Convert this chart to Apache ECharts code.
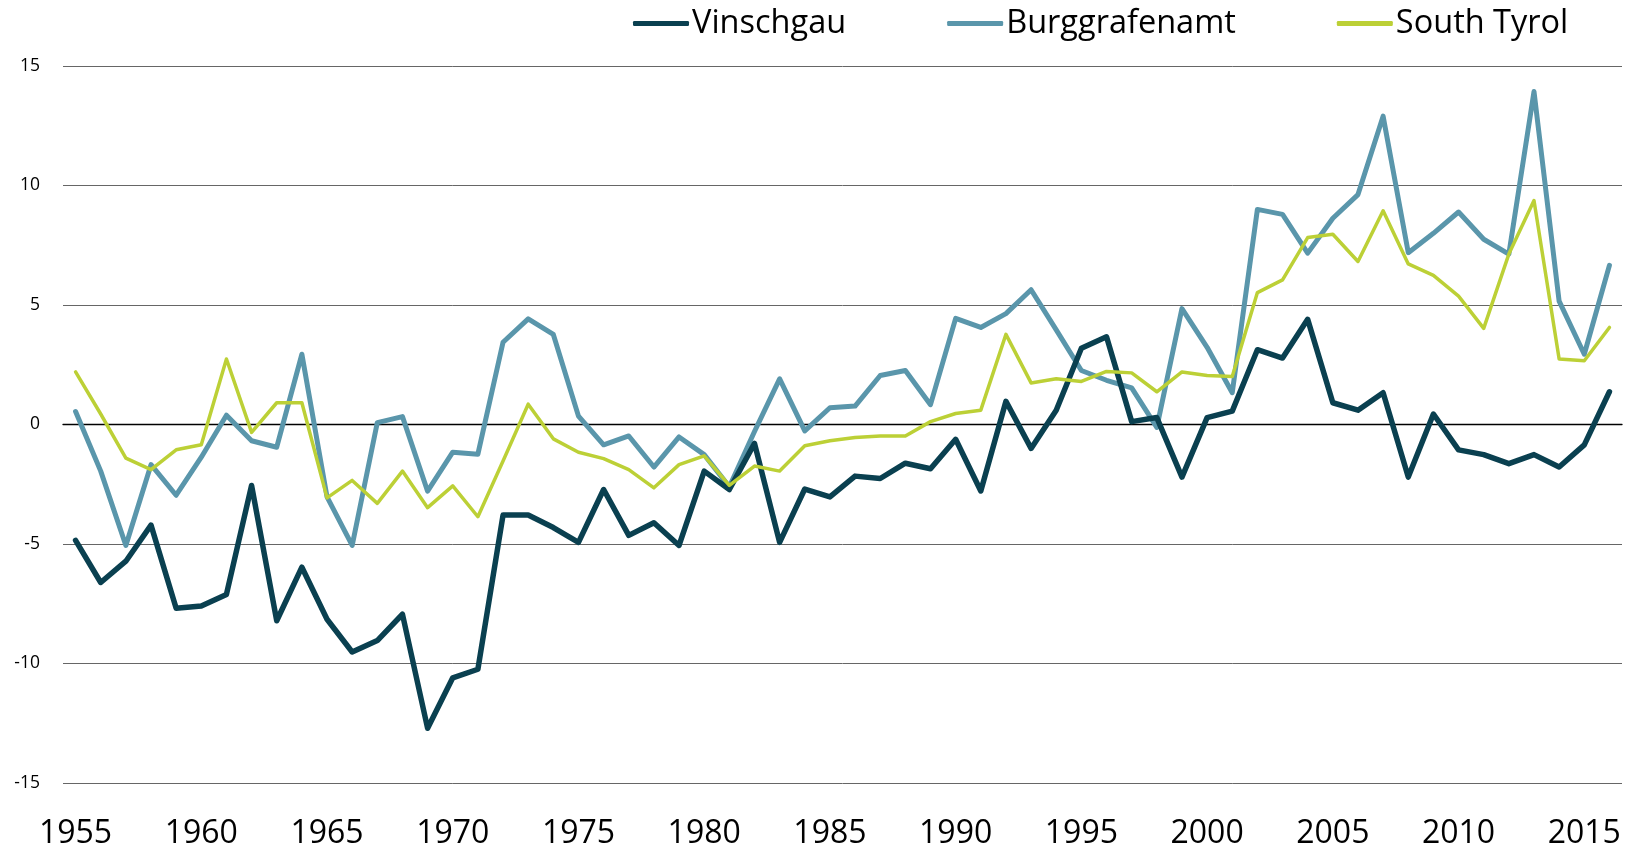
<!DOCTYPE html>
<html><head><meta charset="utf-8">
<script src="https://cdn.jsdelivr.net/npm/echarts@6/dist/echarts.min.js"></script>
<style>html,body{margin:0;padding:0;background:#fff}#c{width:1637px;height:850px}</style>
</head><body><div id="c"></div>
<script>
const years = [];
for (let y = 1955; y <= 2016; y++) years.push(String(y));

const vinschgau = [
 -4.85,-6.61,-5.72,-4.21,-7.69,-7.59,-7.11,-2.55,-8.21,-5.97,
 -8.15,-9.52,-9.04,-7.94,-12.71,-10.60,-10.24,-3.79,-3.79,-4.31,
 -4.93,-2.72,-4.64,-4.11,-5.06,-1.95,-2.72,-0.79,-4.93,-2.70,
 -3.03,-2.16,-2.26,-1.62,-1.85,-0.62,-2.78,0.97,-1.00,0.60,
 3.19,3.67,0.12,0.29,-2.20,0.29,0.56,3.13,2.78,4.40,
 0.91,0.60,1.33,-2.20,0.44,-1.06,-1.26,-1.64,-1.26,-1.78,
 -0.85,1.37
];
const burggrafenamt = [
 0.54,-1.95,-5.06,-1.68,-2.96,-1.37,0.39,-0.68,-0.95,2.94,
 -3.03,-5.06,0.08,0.33,-2.79,-1.16,-1.24,3.44,4.42,3.77,
 0.35,-0.85,-0.48,-1.78,-0.52,-1.26,-2.61,-0.29,1.91,-0.27,
 0.70,0.77,2.05,2.26,0.83,4.44,4.06,4.64,5.64,3.96,
 2.26,1.85,1.53,-0.12,4.85,3.23,1.33,9.00,8.79,7.17,
 8.63,9.62,12.90,7.19,8.00,8.89,7.75,7.13,13.93,5.16,
 2.94,6.66
];
const southTyrol = [
 2.20,0.44,-1.41,-1.89,-1.06,-0.85,2.74,-0.33,0.91,0.91,
 -3.07,-2.34,-3.30,-1.95,-3.48,-2.57,-3.86,-1.53,0.85,-0.60,
 -1.16,-1.43,-1.89,-2.65,-1.68,-1.31,-2.55,-1.74,-1.95,-0.89,
 -0.68,-0.54,-0.48,-0.48,0.12,0.46,0.60,3.77,1.74,1.91,
 1.80,2.22,2.16,1.37,2.20,2.05,2.01,5.52,6.05,7.82,
 7.96,6.82,8.94,6.72,6.24,5.37,4.02,7.13,9.37,2.74,
 2.67,4.06
];
const yTicks = [-15, -10, -5, 0, 5, 10, 15];

const FONT = '"Open Sans", "Noto Sans", sans-serif';
const chart = echarts.init(document.getElementById('c'), null, {renderer: 'canvas'});
const mk = (name, data, color, w, z) => ({
  name, type: 'line', data, symbol: 'none', z,
  lineStyle: {color, width: w, join: 'round', cap: 'round'}, itemStyle: {color}
});
chart.setOption({
  animation: false,
  backgroundColor: '#fff',
  legend: {
    top: 2, left: 628,
    itemWidth: 56, itemHeight: 5, itemGap: 101,
    icon: 'roundRect',
    textStyle: {fontFamily: FONT, fontSize: 32.5, color: '#000', padding: [0,0,0,-2]},
    data: ['Vinschgau', 'Burggrafenamt', 'South Tyrol']
  },
  grid: {left: 63, right: 15, top: 66, bottom: 66},
  xAxis: {
    type: 'category', data: years, boundaryGap: true,
    axisLine: {onZero: true, lineStyle: {color: '#000', width: 1.3}},
    axisTick: {show: false},
    axisLabel: {interval: 4, fontFamily: FONT, fontSize: 32, color: '#000', margin: 35,
      verticalAlign: 'top'}
  },
  yAxis: {
    type: 'value', min: -15, max: 15, interval: 5,
    axisLine: {show: false}, axisTick: {show: false},
    axisLabel: {fontFamily: FONT, fontSize: 17.5, color: '#000', margin: 23,
      formatter: v => yTicks.includes(v) ? String(v) : ''},
    splitLine: {lineStyle: {color: '#666', width: 1}}
  },
  series: [
    mk('Vinschgau', vinschgau, '#0a4050', 5.5, 3),
    mk('Burggrafenamt', burggrafenamt, '#5a96ab', 5, 2),
    mk('South Tyrol', southTyrol, '#bcd036', 3.5, 4)
  ]
});
</script></body></html>
